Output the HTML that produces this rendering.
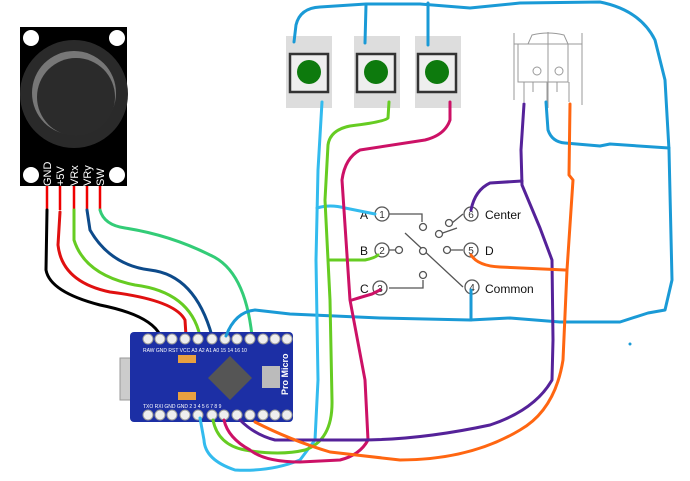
<!DOCTYPE html>
<html><head><meta charset="utf-8"><style>
html,body{margin:0;padding:0;background:#fff;width:690px;height:481px;overflow:hidden}
svg{display:block}
text{font-family:"Liberation Sans",sans-serif}
</style></head><body>
<svg width="690" height="481" viewBox="0 0 690 481" xmlns="http://www.w3.org/2000/svg">
<!-- Joystick -->
<rect x="20" y="27" width="107" height="159" fill="#000"/>
<circle cx="31" cy="38" r="8" fill="#fff"/><circle cx="117" cy="38" r="8" fill="#fff"/>
<circle cx="31" cy="175" r="8" fill="#fff"/><circle cx="117" cy="175" r="8" fill="#fff"/>
<circle cx="74" cy="94" r="54" fill="#2a2a2a"/>
<circle cx="74" cy="93" r="42" fill="#777"/>
<circle cx="76" cy="97" r="39" fill="#2b2b2b"/>
<g fill="#fff" font-size="11">
<text transform="translate(51,186) rotate(-90)">GND</text>
<text transform="translate(64,186) rotate(-90)">+5V</text>
<text transform="translate(78,186) rotate(-90)">VRx</text>
<text transform="translate(91,186) rotate(-90)">VRy</text>
<text transform="translate(104,186) rotate(-90)">SW</text>
</g>
<g stroke="#e00" stroke-width="2.5" fill="none">
<path d="M47 186V210M60 186V210M74 186V210M87 186V210M100 186V210"/>
</g>
<!-- joystick wires -->
<g fill="none" stroke-width="3" stroke-linecap="round">
<path d="M47 210 L46 270 Q50 292 100 305 Q150 315 160 335" stroke="#000"/>
<path d="M60 212 L58 245 Q62 282 110 292 Q175 300 185 320 L186 336" stroke="#e01010"/>
<path d="M74 210 L74 240 Q85 275 135 285 Q190 292 200 336" stroke="#66cc22"/>
<path d="M87 210 L90 230 Q110 265 150 270 Q195 275 212 336" stroke="#0d4a8a"/>
<path d="M100 210 Q104 225 125 228 Q170 235 210 255 Q245 270 252 336" stroke="#33cc77"/>
</g>
<!-- Arduino -->
<rect x="120" y="358" width="24" height="42" fill="#ccc" stroke="#999"/>
<rect x="130" y="332" width="163" height="90" rx="4" fill="#1c2fa5"/>
<polygon points="230,356 252,378 230,400 208,378" fill="#555"/>
<rect x="178" y="355" width="18" height="8" fill="#e8a040"/>
<rect x="178" y="392" width="18" height="8" fill="#e8a040"/>
<rect x="262" y="366" width="18" height="22" fill="#bbb"/>
<g fill="#fff" font-size="5">
<text x="143" y="352">RAW GND RST VCC A3 A2 A1 A0 15 14 16 10</text>
<text x="143" y="408">TXO RXI GND GND 2 3 4 5 6 7 8 9</text>
</g>
<text transform="translate(288,395) rotate(-90)" fill="#fff" font-size="9" font-weight="bold">Pro Micro</text>
<g fill="#eee" stroke="#999" stroke-width="1">
<circle cx="148" cy="339" r="5"/><circle cx="160" cy="339" r="5"/><circle cx="172" cy="339" r="5"/><circle cx="185" cy="339" r="5"/><circle cx="198" cy="339" r="5"/><circle cx="212" cy="339" r="5"/><circle cx="225" cy="339" r="5"/><circle cx="237" cy="339" r="5"/><circle cx="250" cy="339" r="5"/><circle cx="263" cy="339" r="5"/><circle cx="275" cy="339" r="5"/><circle cx="287" cy="339" r="5"/>
<circle cx="148" cy="415" r="5"/><circle cx="160" cy="415" r="5"/><circle cx="172" cy="415" r="5"/><circle cx="185" cy="415" r="5"/><circle cx="198" cy="415" r="5"/><circle cx="212" cy="415" r="5"/><circle cx="224" cy="415" r="5"/><circle cx="237" cy="415" r="5"/><circle cx="250" cy="415" r="5"/><circle cx="263" cy="415" r="5"/><circle cx="275" cy="415" r="5"/><circle cx="287" cy="415" r="5"/>
</g>
<!-- Buttons -->
<g>
<rect x="286" y="36" width="46" height="72" fill="#ddd"/>
<rect x="354" y="36" width="46" height="72" fill="#ddd"/>
<rect x="415" y="36" width="46" height="72" fill="#ddd"/>
<rect x="290" y="54" width="38" height="38" fill="#eee" stroke="#333" stroke-width="2.5"/>
<rect x="357" y="54" width="38" height="38" fill="#eee" stroke="#333" stroke-width="2.5"/>
<rect x="418" y="54" width="38" height="38" fill="#eee" stroke="#333" stroke-width="2.5"/>
<circle cx="309" cy="72" r="12" fill="#0d7a0d"/>
<circle cx="376" cy="72" r="12" fill="#0d7a0d"/>
<circle cx="437" cy="72" r="12" fill="#0d7a0d"/>
</g>
<!-- Rocker switch -->
<g fill="none" stroke="#999" stroke-width="1">
<path d="M514 44H582M518 44V82H568V44M528 44 L532 35 Q548 31 564 35 L568 44"/>
<path d="M524 82V102M533 82V92M547 82V104M557 82V92M569 82V102"/>
<circle cx="537" cy="71" r="4"/><circle cx="559" cy="71" r="4"/>
<path d="M548 32V108M514 33V100M582 33V105"/>
</g>
<!-- Rotary diagram -->
<g fill="#fff" stroke="#555" stroke-width="1.3">
<path d="M389 214H422V222M389 250H395M389 288H423V280M463 214L452 223M463 250H450M405 233L463 287M437 235L457 228" fill="none"/>
<circle cx="382" cy="214" r="7"/><circle cx="382" cy="250" r="7"/><circle cx="380" cy="288" r="7"/>
<circle cx="471" cy="214" r="7"/><circle cx="471" cy="250" r="7"/><circle cx="472" cy="287" r="7"/>
<circle cx="423" cy="227" r="3.5"/><circle cx="399" cy="250" r="3.5"/><circle cx="423" cy="251" r="3.5"/>
<circle cx="447" cy="250" r="3.5"/><circle cx="423" cy="275" r="3.5"/><circle cx="449" cy="223" r="3.5"/><circle cx="439" cy="234" r="3.5"/>
</g>
<g font-size="10" fill="#333" text-anchor="middle">
<text x="382" y="218">1</text><text x="382" y="254">2</text><text x="380" y="292">3</text>
<text x="471" y="218">6</text><text x="471" y="254">5</text><text x="472" y="291">4</text>
</g>
<g font-size="12" fill="#111">
<text x="360" y="219">A</text><text x="360" y="255">B</text><text x="360" y="293">C</text>
<text x="485" y="219">Center</text><text x="485" y="255">D</text><text x="485" y="293">Common</text>
</g>
<!-- Wires -->
<g fill="none" stroke-width="3" stroke-linecap="round" stroke-linejoin="round">
<!-- blue -->
<path d="M294 42 L296 25 Q300 8 320 7 L366 4 L420 4 L470 8 L520 3 L600 2 Q640 10 655 40 L665 80 L669 150 L672 280 L665 310 L648 313 L620 322 L560 322 L510 318 L470 320 L380 318 L290 314 L255 310 Q235 312 226 336" stroke="#1a9ad6"/>
<path d="M366 5 L365 43M428 3 L428 45M471 290 L471 320" stroke="#1a9ad6"/>
<path d="M546 102 L548 130 Q552 142 565 143 L600 146 L610 144 L669 148" stroke="#1a9ad6"/>
<!-- cyan -->
<path d="M322 102 L318 170 L316 260 L318 380 L315 440 L300 460 Q270 472 235 470 Q205 460 204 440 L200 418" stroke="#33bbee"/>
<path d="M317 208 Q330 204 345 208 L375 214" stroke="#33bbee"/>
<!-- green -->
<path d="M389 102 L388 118 Q384 122 350 126 Q330 130 328 145 L325 200 L330 300 L332 400 Q333 440 305 450 Q280 456 245 450 Q218 445 213 420" stroke="#66cc22"/>
<path d="M328 260 L365 260 Q375 258 378 255" stroke="#66cc22"/>
<!-- magenta -->
<path d="M450 102 L450 120 Q445 135 425 140 L360 150 Q345 158 342 180 L350 300 L365 380 L368 440 Q360 455 340 460 L300 462 Q265 462 250 450 Q228 438 224 420" stroke="#cc1166"/>
<path d="M352 300 Q365 296 372 294 L380 290" stroke="#cc1166"/>
<!-- purple -->
<path d="M524 104 L521 150 L522 185 L540 228 L552 260 L553 340 L552 380 Q535 410 490 425 Q420 440 360 440 L275 440 Q255 435 240 420" stroke="#552299"/>
<path d="M471 210 Q475 190 490 183 L522 181" stroke="#552299"/>
<!-- orange -->
<path d="M570 104 L569 175 L573 180 L567 270 L563 360 Q555 410 520 430 Q470 460 400 460 L330 452 Q290 440 255 422" stroke="#ff6611"/>
<path d="M471 255 Q478 266 500 267 L565 270" stroke="#ff6611"/>
</g>
<circle cx="630" cy="344" r="1.5" fill="#1a9ad6"/>
</svg>
</body></html>
